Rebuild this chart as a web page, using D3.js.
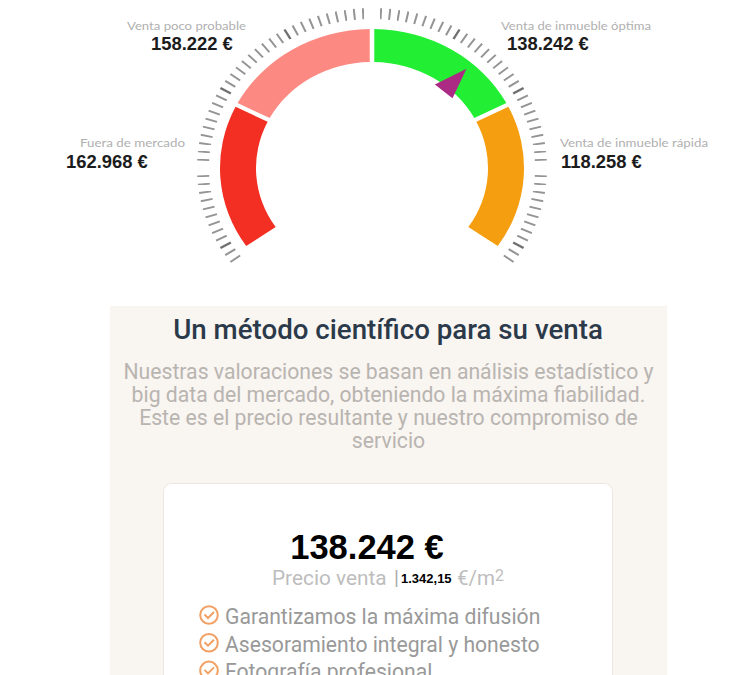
<![CDATA[<!DOCTYPE html>
<html><head><meta charset="utf-8">
<script src="https://d3js.org/d3.v7.min.js"></script>
<style>html,body{margin:0;padding:0;background:#fff;overflow:hidden}svg{display:block}</style>
</head><body><svg id="c" width="744" height="675"></svg>
<script>
// data
const segmentNames = ["Fuera de mercado","Venta poco probable","Venta de inmueble óptima","Venta de inmueble rápida"];
const segmentValues = ["162.968 €","158.222 €","138.242 €","118.258 €"];
const segmentEdges = [-125,-63,0,63,125];
const segmentColors = ["#f22f22","#fd8a82","#22ee33","#f59f10"];
const pointerAngle = 41;
const tickAngles = d3.range(-126,127,3);
const majorTickAngles = [-120,-90,-60,-30,0,30,60,90,120];
const title = "Un método científico para su venta";
const paragraph = ["Nuestras valoraciones se basan en análisis estadístico y","big data del mercado, obteniendo la máxima fiabilidad.","Este es el precio resultante y nuestro compromiso de","servicio"];
const price = "138.242 €";
const pricePerM2 = "1.342,15";
const bullets = ["Garantizamos la máxima difusión","Asesoramiento integral y honesto","Fotografía profesional"];

const svg = d3.select("#c");
const defs = svg.append("defs");
defs.append("filter").attr("id","soft").append("feGaussianBlur").attr("stdDeviation",0.45);
const cx=372, cy=168, sy=0.914;
const angle = d3.scaleLinear().domain([-180,180]).range([-Math.PI,Math.PI]);

// panel
svg.append("rect").attr("x",110).attr("y",306).attr("width",557).attr("height",380).attr("fill","#f9f5f1");
svg.append("rect").attr("x",163.5).attr("y",483.5).attr("width",449).attr("height",240).attr("rx",8)
  .attr("fill","#fff").attr("stroke","#ece7e0");

// gauge
const g = svg.append("g").attr("transform",`translate(${cx},${cy}) scale(1,${sy})`);
const arc = d3.arc().innerRadius(116).outerRadius(152).padAngle(0.034).padRadius(134);
g.selectAll("path.seg").data(segmentColors).join("path").attr("class","seg")
  .attr("d",(d,i)=>arc({startAngle:angle(segmentEdges[i]),endAngle:angle(segmentEdges[i+1])}))
  .attr("fill",d=>d);
g.selectAll("line.t").data(tickAngles).join("line").attr("class","t")
  .attr("x1",d=>163*Math.sin(angle(d))).attr("y1",d=>-163*Math.cos(angle(d)))
  .attr("x2",d=>175*Math.sin(angle(d))).attr("y2",d=>-175*Math.cos(angle(d)))
  .attr("stroke",d=>majorTickAngles.includes(d)?"#707070":"#949494")
  .attr("stroke-width",d=>majorTickAngles.includes(d)?2.4:2)
  .attr("filter","url(#soft)");

// pointer
function pt(r,a){return [cx+r*Math.sin(angle(a)),cy-sy*r*Math.cos(angle(a))];}
const tip=pt(144,pointerAngle), b1=pt(111,pointerAngle-6.5), b2=pt(111,pointerAngle+5.5);
svg.append("path").attr("d",d3.line()([tip,b1,b2])+"Z").attr("fill","#ac2a84");

function txt(x,y,s,o){const t=svg.append("text").attr("x",x).attr("y",y).text(s);
  Object.entries(o).forEach(([k,v])=>t.attr(k,v));return t;}
const nameX=[80,127,501,560], nameY=[147,30,30,147], nameW=[105,119,150,148], valX=[66,151,507,561], valY=[168,50,50,168];
segmentNames.forEach((n,i)=>{
  txt(nameX[i],nameY[i],n,{"font-family":"Lato","font-size":11.5,"fill":"#b0b0b0","textLength":nameW[i],"lengthAdjust":"spacingAndGlyphs"});
  txt(valX[i],valY[i],segmentValues[i],{"font-family":"Liberation Sans","font-size":18.4,"font-weight":"bold","fill":"#1c1c1c"});
});

// panel text
txt(388,339,title,{"font-family":"Roboto","font-size":27.7,"font-weight":500,"fill":"#2b3a4a","text-anchor":"middle"});
paragraph.forEach((l,i)=>txt(388.5,379+i*23,l,{"font-family":"Roboto","font-size":21.2,"fill":"#b8b4b0","text-anchor":"middle"}));
txt(367,559,price,{"font-family":"Liberation Sans","font-size":34.5,"font-weight":"bold","fill":"#000","text-anchor":"middle"});
txt(272,585,"Precio venta",{"font-family":"Roboto","font-size":20.8,"fill":"#bdbdbd"});
txt(394,585,"|",{"font-family":"Roboto","font-size":20,"fill":"#aaa"});
txt(401,583,pricePerM2,{"font-family":"Liberation Sans","font-size":13,"font-weight":"bold","fill":"#000"});
txt(457,585,"€/m",{"font-family":"Roboto","font-size":20.5,"fill":"#bdbdbd"});
txt(495,581,"2",{"font-family":"Roboto","font-size":16,"fill":"#bdbdbd"});
bullets.forEach((b,i)=>{
  const y=615+i*27.7;
  svg.append("circle").attr("cx",209).attr("cy",y).attr("r",8.8).attr("fill","none").attr("stroke","#f2a064").attr("stroke-width",2);
  svg.append("path").attr("d",d3.line()([[204.5,y-0.5],[208,y+3],[214,y-3]])).attr("fill","none").attr("stroke","#f2a064").attr("stroke-width",2);
  txt(225,y+9,b,{"font-family":"Roboto","font-size":21.15,"fill":"#999"});
});
</script></body></html>]]>
